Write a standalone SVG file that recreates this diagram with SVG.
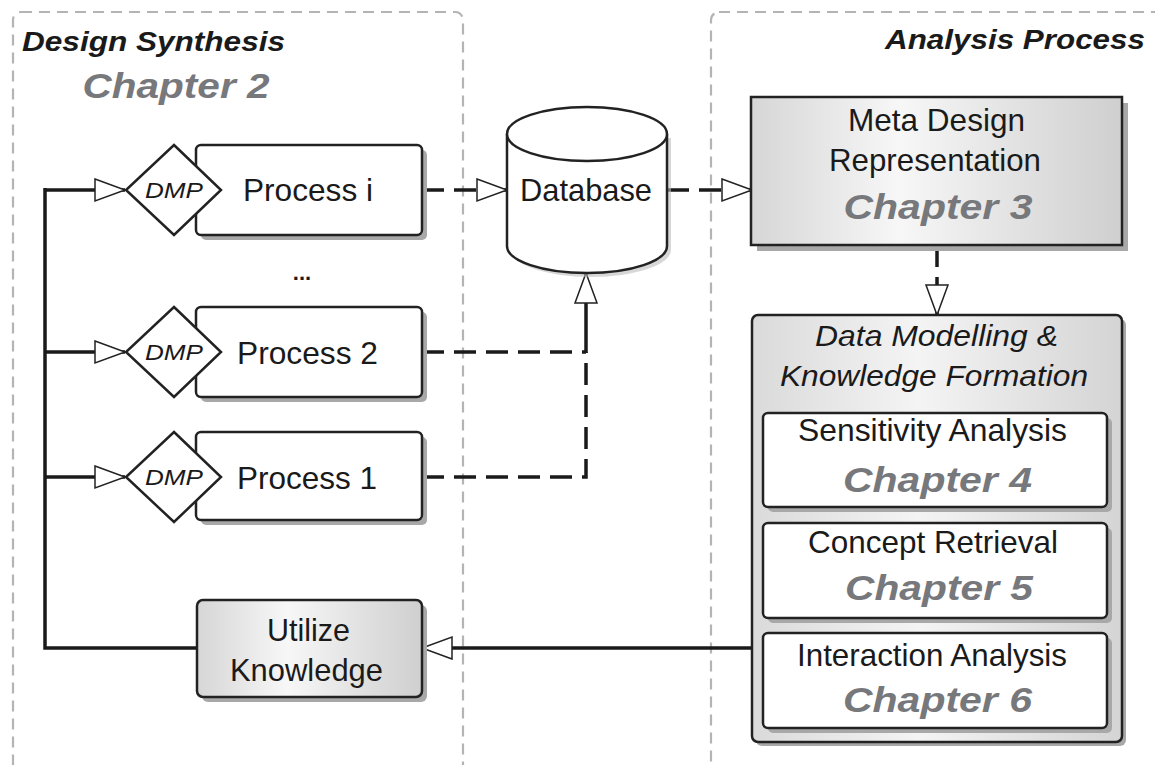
<svg xmlns="http://www.w3.org/2000/svg" width="1155" height="765" viewBox="0 0 1155 765">
<style>
text{font-family:"Liberation Sans",Arial,sans-serif;fill:#1a1a1a}
.t{font-size:32px;text-anchor:middle}
.ti{font-size:30px;font-style:italic;text-anchor:middle}
.ch{font-size:35px;font-weight:bold;font-style:italic;fill:#77787b;text-anchor:middle}
.hd{font-size:27px;font-weight:bold;font-style:italic}
.dmp{font-size:22px;font-style:italic;text-anchor:middle}
.cont{fill:none;stroke:#b4b4b4;stroke-width:2.2;stroke-dasharray:11 7}
.box{stroke:#222;stroke-width:2.5}
.sh{fill:#a8a8a8}
.ln{fill:none;stroke:#1a1a1a;stroke-width:3.5}
.dash{stroke-dasharray:22 10}
</style>
<defs>
<linearGradient id="g1" x1="0" y1="0" x2="1" y2="0">
<stop offset="0" stop-color="#d6d6d6"/>
<stop offset="0.4" stop-color="#f7f7f7"/>
<stop offset="1" stop-color="#cfcfcf"/>
</linearGradient>
<linearGradient id="g2" x1="0" y1="0" x2="1" y2="0">
<stop offset="0" stop-color="#dadada"/>
<stop offset="0.45" stop-color="#f4f4f4"/>
<stop offset="1" stop-color="#d4d4d4"/>
</linearGradient>
<marker id="ah" markerUnits="userSpaceOnUse" markerWidth="34" markerHeight="26" refX="31" refY="12" orient="auto">
<path d="M1,1 L31,12 L1,23 Z" fill="#fff" stroke="#222" stroke-width="1.5" stroke-dasharray="none"/>
</marker>
</defs>
<rect width="1155" height="765" fill="#fff"/>

<g id="containers">
<rect class="cont" x="13" y="12" width="450" height="800" rx="8"/>
<rect class="cont" x="711" y="12" width="520" height="800" rx="8"/>
<text class="hd" x="22" y="51" textLength="263" lengthAdjust="spacingAndGlyphs">Design Synthesis</text>
<text class="ch" x="176" y="98" textLength="187" lengthAdjust="spacingAndGlyphs">Chapter 2</text>
<text class="hd" x="885" y="49" textLength="260" lengthAdjust="spacingAndGlyphs">Analysis Process</text>
</g>

<g id="connectors">
<path class="ln dash" d="M422,190 H507" marker-end="url(#ah)"/>
<path class="ln dash" d="M667,190 H752" marker-end="url(#ah)"/>
<path class="ln dash" d="M937,245 V315" marker-end="url(#ah)"/>
<path class="ln dash" d="M422,352 H586"/>
<path class="ln dash" d="M422,477 H586 V352"/>
<path class="ln" d="M586,353 V273" marker-end="url(#ah)"/>
<path class="ln" d="M752,648 H422" marker-end="url(#ah)"/>
<path class="ln" d="M197,648 H45 V188"/>
<path class="ln" d="M44,190 H125" marker-end="url(#ah)"/>
<path class="ln" d="M45,352 H125" marker-end="url(#ah)"/>
<path class="ln" d="M45,477 H125" marker-end="url(#ah)"/>
</g>

<g id="process-i">
<rect class="sh" x="201" y="150" width="226" height="90" rx="5"/>
<rect class="box" x="196" y="145" width="226" height="90" rx="5" fill="#fff"/>
<path class="box" d="M174,145 L221,190 L174,235 L126,190 Z" fill="#fff"/>
<text class="dmp" x="174" y="198" textLength="58" lengthAdjust="spacingAndGlyphs">DMP</text>
<text class="t" x="308" y="201" textLength="130" lengthAdjust="spacingAndGlyphs">Process i</text>
</g>

<g id="ellipsis">
<text x="302" y="280" font-size="22" font-weight="bold" text-anchor="middle">...</text>
</g>

<g id="process-2">
<rect class="sh" x="201" y="312" width="226" height="90" rx="5"/>
<rect class="box" x="196" y="307" width="226" height="90" rx="5" fill="#fff"/>
<path class="box" d="M174,307 L221,352 L174,397 L126,352 Z" fill="#fff"/>
<text class="dmp" x="174" y="360" textLength="58" lengthAdjust="spacingAndGlyphs">DMP</text>
<text class="t" x="307.5" y="364" textLength="141" lengthAdjust="spacingAndGlyphs">Process 2</text>
</g>

<g id="process-1">
<rect class="sh" x="201" y="437" width="226" height="88" rx="5"/>
<rect class="box" x="196" y="432" width="226" height="88" rx="5" fill="#fff"/>
<path class="box" d="M174,432 L221,477 L174,522 L126,477 Z" fill="#fff"/>
<text class="dmp" x="174" y="485" textLength="58" lengthAdjust="spacingAndGlyphs">DMP</text>
<text class="t" x="307" y="489" textLength="140" lengthAdjust="spacingAndGlyphs">Process 1</text>
</g>

<g id="database">
<path d="M511,138 V250 A80,27 0 0 0 671,250 V138 Z" fill="#bdbdbd" opacity="0.6"/>
<path class="box" d="M507,134 V246 A80,27 0 0 0 667,246 V134" fill="#fff"/>
<ellipse class="box" cx="587" cy="134" rx="80" ry="27" fill="#fff"/>
<text class="t" x="586" y="201" textLength="132" lengthAdjust="spacingAndGlyphs">Database</text>
</g>

<g id="meta-design">
<rect class="sh" x="757" y="103" width="371" height="148"/>
<rect class="box" x="751" y="97" width="371" height="148" fill="url(#g1)"/>
<text class="t" x="936.5" y="131" textLength="177" lengthAdjust="spacingAndGlyphs">Meta Design</text>
<text class="t" x="935" y="171" textLength="212" lengthAdjust="spacingAndGlyphs">Representation</text>
<text class="ch" x="938" y="219" textLength="189" lengthAdjust="spacingAndGlyphs">Chapter 3</text>
</g>

<g id="data-modelling">
<rect class="sh" x="756" y="319" width="370" height="427" rx="6"/>
<rect class="box" x="752" y="315" width="370" height="427" rx="6" fill="url(#g2)"/>
<text class="ti" x="936.5" y="346" textLength="243" lengthAdjust="spacingAndGlyphs">Data Modelling &amp;</text>
<text class="ti" x="934" y="386" textLength="308" lengthAdjust="spacingAndGlyphs">Knowledge Formation</text>
</g>

<g id="sensitivity">
<rect class="sh" x="768" y="418" width="344" height="94" rx="5"/>
<rect class="box" x="763" y="413" width="344" height="94" rx="5" fill="#fff"/>
<text class="t" x="932.5" y="441" textLength="269" lengthAdjust="spacingAndGlyphs">Sensitivity Analysis</text>
<text class="ch" x="937.5" y="492" textLength="189" lengthAdjust="spacingAndGlyphs">Chapter 4</text>
</g>

<g id="concept">
<rect class="sh" x="768" y="528" width="344" height="95" rx="5"/>
<rect class="box" x="763" y="523" width="344" height="95" rx="5" fill="#fff"/>
<text class="t" x="933" y="553" textLength="250" lengthAdjust="spacingAndGlyphs">Concept Retrieval</text>
<text class="ch" x="939" y="600" textLength="188" lengthAdjust="spacingAndGlyphs">Chapter 5</text>
</g>

<g id="interaction">
<rect class="sh" x="768" y="638" width="344" height="95" rx="5"/>
<rect class="box" x="763" y="633" width="344" height="95" rx="5" fill="#fff"/>
<text class="t" x="932" y="666" textLength="270" lengthAdjust="spacingAndGlyphs">Interaction Analysis</text>
<text class="ch" x="937.5" y="712" textLength="189" lengthAdjust="spacingAndGlyphs">Chapter 6</text>
</g>

<g id="utilize">
<rect class="sh" x="202" y="605" width="225" height="97" rx="6"/>
<rect class="box" x="197" y="600" width="225" height="97" rx="6" fill="url(#g1)"/>
<text class="t" x="308.5" y="641" textLength="83" lengthAdjust="spacingAndGlyphs">Utilize</text>
<text class="t" x="306.5" y="681" textLength="153" lengthAdjust="spacingAndGlyphs">Knowledge</text>
</g>
</svg>
